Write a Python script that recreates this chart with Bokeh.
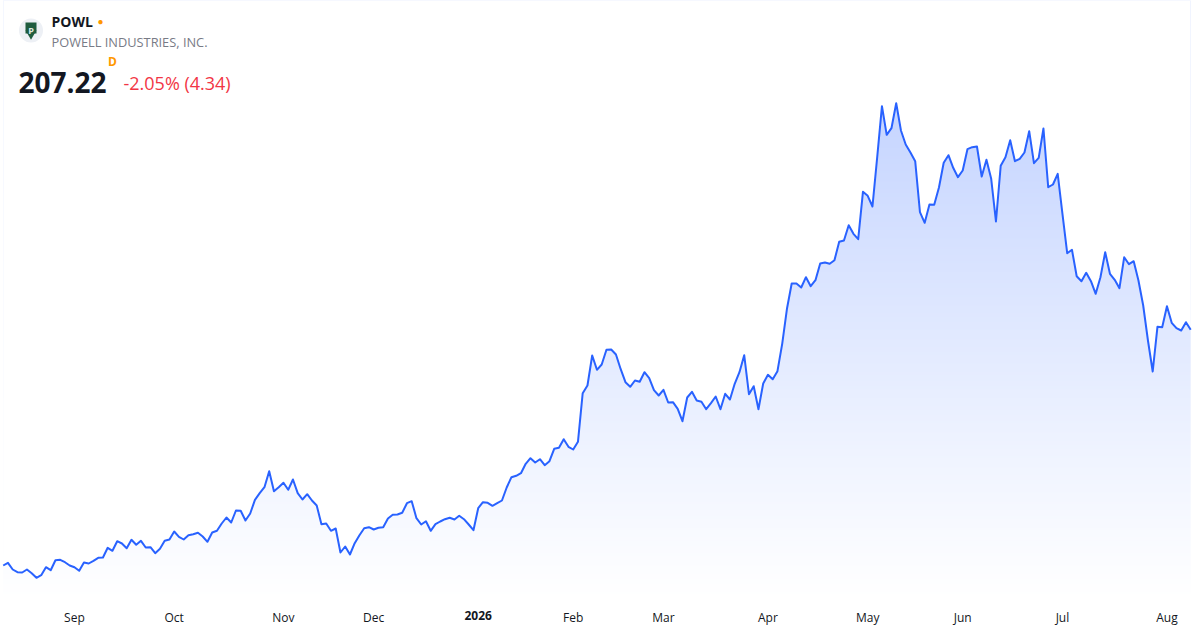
import numpy as np
from bokeh.plotting import figure
from bokeh.models import Range1d, FixedTicker, Label, LinearAxis
from bokeh.embed import file_html
from bokeh.resources import INLINE

# ---------------- data ----------------
symbol = "POWL"
company = "POWELL INDUSTRIES, INC."
last_price = "207.22"
delay_flag = "D"
change_text = "-2.05% (4.34)"

# daily closes, one per trading day
prices = [
    112.94, 114.02, 111.34, 110.26, 110.14, 111.34, 109.86, 108.02, 109.06, 112.26,
    111.06, 115.06, 115.22, 114.26, 112.94, 112.26, 110.82, 114.14, 113.74, 114.82,
    116.02, 116.14, 120.02, 118.82, 122.66, 121.74, 119.86, 123.22, 121.22, 122.82,
    120.14, 120.26, 117.86, 119.62, 122.82, 123.34, 126.54, 124.42, 123.34, 125.06,
    125.46, 126.02, 124.54, 122.42, 126.14, 126.82, 129.74, 132.14, 130.14, 134.94,
    134.82, 130.94, 133.74, 139.22, 141.86, 144.26, 150.66, 142.66, 144.26, 146.02,
    143.22, 147.34, 141.86, 139.34, 141.46, 138.94, 136.94, 129.46, 129.74, 126.82,
    127.74, 118.14, 120.54, 117.34, 121.86, 125.06, 127.86, 128.26, 127.34, 128.02,
    128.26, 131.74, 133.22, 133.34, 134.02, 137.86, 138.66, 131.86, 129.34, 130.66,
    126.82, 129.46, 130.54, 131.46, 132.02, 131.34, 132.82, 131.46, 129.34, 127.06,
    135.86, 138.26, 138.02, 136.82, 137.86, 138.94, 144.14, 148.26, 148.82, 149.86,
    153.62, 155.86, 154.14, 155.46, 153.06, 154.66, 159.62, 160.02, 163.46, 160.42,
    159.34, 162.42, 181.86, 184.94, 196.94, 191.22, 193.34, 199.22, 199.34, 197.34,
    191.46, 186.26, 184.42, 186.94, 186.42, 190.26, 187.86, 183.06, 180.94, 183.22,
    178.14, 178.26, 175.62, 170.66, 180.14, 182.42, 178.94, 178.42, 175.46, 177.86,
    180.54, 175.46, 181.62, 179.34, 185.62, 190.26, 197.06, 181.46, 184.66, 175.46,
    185.74, 189.22, 187.46, 190.66, 201.62, 215.62, 225.74, 225.74, 224.14, 228.26,
    224.66, 227.06, 233.74, 234.14, 233.62, 235.06, 242.42, 242.94, 249.06, 245.62,
    243.46, 262.42, 260.82, 256.54, 276.26, 296.66, 285.22, 287.86, 297.86, 286.94,
    281.34, 278.14, 274.66, 254.26, 250.02, 257.34, 257.22, 264.14, 274.02, 277.06,
    272.02, 268.26, 270.94, 279.46, 280.26, 280.54, 268.54, 275.22, 267.62, 250.54,
    272.82, 276.26, 283.06, 274.66, 275.62, 278.14, 286.66, 273.86, 276.02, 287.74,
    264.26, 265.34, 269.62, 253.62, 237.86, 239.22, 228.66, 226.66, 230.02, 226.66,
    221.62, 228.26, 238.26, 229.62, 227.22, 223.86, 236.26, 233.46, 234.66, 226.94,
    216.94, 202.94, 190.54, 208.42, 208.26, 216.66, 210.02, 207.86, 206.94, 210.26,
    207.22,
]

# first trading day of each month (index into prices) and its label
month_ticks = [15, 36, 59, 78, 120, 139, 161, 182, 202, 223, 245]
month_labels = ["Sep", "Oct", "Nov", "Dec", "Feb", "Mar", "Apr", "May", "Jun", "Jul", "Aug"]
year_ticks = [100]
year_labels = ["2026"]

# ---------------- layout helpers ----------------
FONT = "Open Sans"
PX_PER_DAY = 4.75
PX_PER_USD = 2.5
FRAME_W, FRAME_H = 1200, 598
X_START = -2.7 / PX_PER_DAY
Y_TOP = 338.94
X_END = X_START + FRAME_W / PX_PER_DAY
Y_BOTTOM = Y_TOP - FRAME_H / PX_PER_USD


def rx(px):
    """screen x -> data x"""
    return X_START + px / PX_PER_DAY


def ry(py):
    """screen y -> data y"""
    return Y_TOP - py / PX_PER_USD


n = len(prices)
idx = np.arange(n)
price_arr = np.array(prices)

p = figure(
    frame_width=FRAME_W, frame_height=FRAME_H,
    x_range=Range1d(X_START, X_END), y_range=Range1d(Y_BOTTOM, Y_TOP),
    y_axis_location=None, x_axis_location="below",
    toolbar_location=None, output_backend="svg",
    min_border=0, outline_line_color=None,
    background_fill_color="white", border_fill_color="white",
)
p.grid.visible = False

# gradient fill under the line: a vertical gradient image masked above the line
rows = FRAME_H
t = (np.arange(rows) + 0.5) / rows
alpha = 0.33 * t ** 1.05
img = np.empty((rows, 1), dtype=np.uint32)
view = img.view(dtype=np.uint8).reshape((rows, 1, 4))
view[:, 0, 0] = np.round(255 - alpha * (255 - 41)).astype(np.uint8)
view[:, 0, 1] = np.round(255 - alpha * (255 - 98)).astype(np.uint8)
view[:, 0, 2] = 255
view[:, 0, 3] = 255
p.image_rgba(image=[img], x=0, y=Y_BOTTOM, dw=n - 1, dh=Y_TOP - Y_BOTTOM)
p.varea(x=idx, y1=price_arr, y2=np.full(n, Y_TOP + 5), fill_color="white", fill_alpha=1.0)

p.line(idx, price_arr, line_color="#2962ff", line_width=2, line_join="round")


def style_axis(ax, ticks, labels, bold, standoff):
    ax.ticker = FixedTicker(ticks=ticks)
    ax.major_label_overrides = {t_: l_ for t_, l_ in zip(ticks, labels)}
    ax.axis_line_color = None
    ax.major_tick_line_color = None
    ax.minor_tick_line_color = None
    ax.major_tick_in = 0
    ax.major_tick_out = 0
    ax.major_label_text_font = FONT
    ax.major_label_text_font_size = "12px"
    ax.major_label_text_color = "#131722"
    ax.major_label_text_font_style = "bold" if bold else "normal"
    ax.major_label_standoff = standoff


style_axis(p.xaxis[0], month_ticks, month_labels, False, 10)
year_axis = LinearAxis()
style_axis(year_axis, year_ticks, year_labels, True, -18)
p.add_layout(year_axis, "below")

# header: logo
p.scatter(x=[rx(30.5)], y=[ry(30)], size=24, marker="circle",
          fill_color="#edf0f5", line_color=None)
p.scatter(x=[rx(30.5)], y=[ry(27.5)], size=11, marker="square",
          fill_color="#1f5c3e", line_color=None)
p.scatter(x=[rx(30.5)], y=[ry(33)], size=11, marker="inverted_triangle",
          fill_color="#1f5c3e", line_color=None)
p.add_layout(Label(x=rx(30.5), y=ry(29.5), text="P", text_font=FONT, text_font_size="9px",
                   text_font_style="bold", text_color="#dfe9e2",
                   text_align="center", text_baseline="middle"))

p.add_layout(Label(x=rx(51), y=ry(21), text=symbol, text_font=FONT, text_font_size="14px",
                   text_font_style="bold", text_color="#131722",
                   text_align="left", text_baseline="middle"))
p.add_layout(Label(x=rx(100), y=ry(20.5), text="\u25CF", text_font=FONT, text_font_size="10px",
                   text_color="#ff9800", text_align="center", text_baseline="middle"))
p.add_layout(Label(x=rx(51), y=ry(41), text=company, text_font=FONT, text_font_size="12.8px",
                   text_color="#787b86", text_align="left", text_baseline="middle"))
p.add_layout(Label(x=rx(18), y=ry(82), text=last_price, text_font=FONT, text_font_size="28px",
                   text_font_style="bold", text_color="#131722",
                   text_align="left", text_baseline="alphabetic"))
p.add_layout(Label(x=rx(107.5), y=ry(61), text=delay_flag, text_font=FONT, text_font_size="12px",
                   text_font_style="bold", text_color="#ff9800",
                   text_align="left", text_baseline="middle"))
p.add_layout(Label(x=rx(123), y=ry(82), text=change_text, text_font=FONT, text_font_size="18px",
                   text_color="#f23645", text_align="left", text_baseline="alphabetic"))

open("out.html", "w").write(file_html(p, INLINE))
